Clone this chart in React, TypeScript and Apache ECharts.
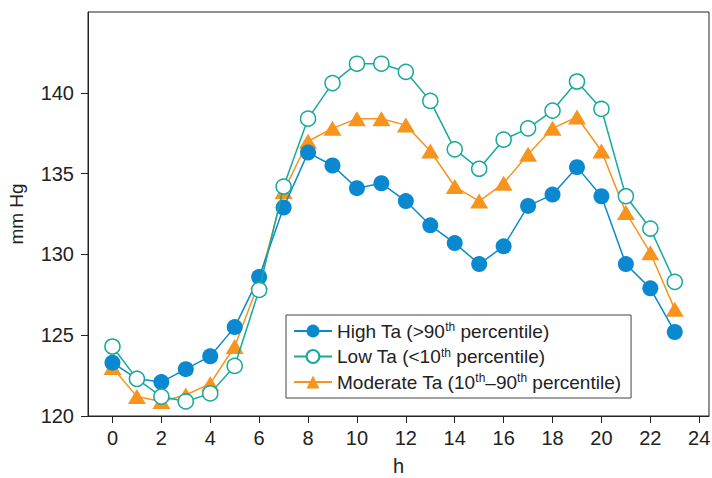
import React, { useEffect, useRef } from "react";
import * as echarts from "echarts";

const hours = [0, 1, 2, 3, 4, 5, 6, 7, 8, 9, 10, 11, 12, 13, 14, 15, 16, 17, 18, 19, 20, 21, 22, 23];
const highTa = [123.3, 122.3, 122.1, 122.9, 123.7, 125.5, 128.6, 132.9, 136.3, 135.5, 134.1, 134.4, 133.3, 131.8, 130.7, 129.4, 130.5, 133.0, 133.7, 135.4, 133.6, 129.4, 127.9, 125.2];
const lowTa = [124.3, 122.3, 121.2, 120.9, 121.4, 123.1, 127.8, 134.2, 138.4, 140.6, 141.8, 141.8, 141.3, 139.5, 136.5, 135.3, 137.1, 137.8, 138.9, 140.7, 139.0, 133.6, 131.6, 128.3];
const moderateTa = [123.0, 121.2, 120.9, 121.3, 122.0, 124.3, 128.3, 133.9, 137.0, 137.8, 138.4, 138.4, 138.0, 136.4, 134.2, 133.3, 134.4, 136.2, 137.8, 138.5, 136.4, 132.6, 130.1, 126.6];
const xTicks = [0, 2, 4, 6, 8, 10, 12, 14, 16, 18, 20, 22, 24];
const yTicks = [120, 125, 130, 135, 140];
const seriesNames = [
  "High Ta (>90{sup|th} percentile)",
  "Low Ta (<10{sup|th} percentile)",
  "Moderate Ta (10{sup|th}–90{sup|th} percentile)",
];

const FONT = "'Liberation Sans', Arial, Helvetica, sans-serif";
const BLUE = "#0a89d1";
const TEAL = "#17a99b";
const ORANGE = "#f7941e";
const TXT = "#222";

export default function App() {
  const ref = useRef<HTMLDivElement>(null);
  useEffect(() => {
    if (!ref.current) return;
    const chart = echarts.init(ref.current, undefined, { renderer: "svg" });
    const pairs = (arr: number[]) => hours.map((h, i) => [h, arr[i]]);
    chart.setOption({
      animation: false,
      textStyle: { fontFamily: FONT },
      grid: {
        left: 88,
        top: 12,
        right: 3,
        bottom: 62,
        outerBoundsMode: "none",
        containLabel: false,
        show: true,
        borderColor: "#222",
        borderWidth: 1,
        backgroundColor: "transparent",
      },
      legend: {
        left: 286,
        top: 315,
        orient: "vertical",
        borderColor: "#444",
        borderWidth: 1,
        padding: [6, 10, 5, 7],
        itemGap: 4.5,
        itemWidth: 38,
        itemHeight: 16,
        align: "left",
        textStyle: {
          fontSize: 19,
          lineHeight: 20,
          color: TXT,
          fontFamily: FONT,
          rich: {
            sup: { fontSize: 12, lineHeight: 20, verticalAlign: "top", padding: [0, 0, 9, 0], color: TXT, fontFamily: FONT },
          },
        },
        data: seriesNames,
      },
      xAxis: {
        type: "value",
        min: -1,
        max: 24.4,
        name: "h",
        nameLocation: "middle",
        nameGap: 40,
        nameTextStyle: { fontSize: 20, color: TXT, fontFamily: FONT },
        axisLine: { show: true, onZero: false, lineStyle: { color: "#222", width: 1 } },
        axisTick: { show: true, length: 7, inside: false, customValues: xTicks, lineStyle: { color: "#222" } },
        axisLabel: { customValues: xTicks, fontSize: 20, color: TXT, margin: 12, fontFamily: FONT },
        splitLine: { show: false },
      },
      yAxis: {
        type: "value",
        min: 120,
        max: 145,
        name: "mm Hg",
        nameLocation: "middle",
        nameGap: 62,
        nameTextStyle: { fontSize: 19, color: TXT, fontFamily: FONT },
        axisLine: { show: true, onZero: false, lineStyle: { color: "#222", width: 1 } },
        axisTick: { show: true, length: 7, customValues: yTicks, lineStyle: { color: "#222" } },
        axisLabel: { customValues: yTicks, fontSize: 20, color: TXT, margin: 14, fontFamily: FONT },
        splitLine: { show: false },
      },
      series: [
        {
          name: seriesNames[0],
          type: "line",
          data: pairs(highTa),
          symbol: "circle",
          symbolSize: 16,
          z: 3,
          lineStyle: { color: BLUE, width: 1.5 },
          itemStyle: { color: BLUE, borderColor: BLUE, borderWidth: 0 },
        },
        {
          name: seriesNames[1],
          type: "line",
          data: pairs(lowTa),
          symbol: "circle",
          symbolSize: 15,
          z: 4,
          lineStyle: { color: TEAL, width: 1.5 },
          itemStyle: { color: "#fff", borderColor: TEAL, borderWidth: 1.5 },
        },
        {
          name: seriesNames[2],
          type: "line",
          data: pairs(moderateTa),
          symbol: "triangle",
          symbolSize: [18, 15],
          z: 2,
          lineStyle: { color: ORANGE, width: 1.5 },
          itemStyle: { color: ORANGE, borderWidth: 0 },
        },
      ],
    });
    return () => chart.dispose();
  }, []);
  return <div ref={ref} style={{ width: 712, height: 478, position: "absolute", left: 0, top: 0 }} />;
}
